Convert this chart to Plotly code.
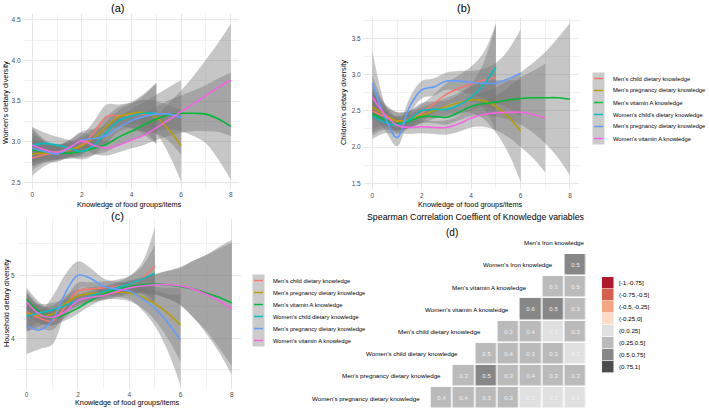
import numpy as np
import plotly.graph_objects as go

W, H = 709, 413

# ---------------- data ----------------
series_colors = ["#F8766D", "#B79F00", "#00BA38", "#00BFC4", "#619CFF", "#F564E3"]
legend_names_b = ["Men's child dietary knowledge", "Men's pregnancy dietary knowledge",
                  "Men's vitamin A knowledge", "Women's child's dietary knowledge",
                  "Men's pregnancy dietary knowledge", "Women's vitamin A knowledge"]
legend_names_c = ["Men's child dietary knowledge", "Men's pregnancy dietary knowledge",
                  "Men's vitamin A knowledge", "Women's child dietary knowledge",
                  "Men's pregnancy dietary knowledge", "Women's vitamin A knowledge"]

# knowledge score step between estimates
knowledge_step = 0.5

# (a) Women's dietary diversity: smoothed mean and half-width of CI
a_mean = [
    [2.80, 2.84, 2.87, 2.90, 2.96, 3.12, 3.31, 3.32, 3.33, 3.34, 3.35],
    [2.85, 2.86, 2.87, 2.90, 2.95, 3.05, 3.19, 3.31, 3.35, 3.36, 3.30, 3.15, 2.95],
    [2.90, 2.88, 2.86, 2.86, 2.88, 2.92, 2.97, 3.06, 3.13, 3.21, 3.28, 3.33, 3.35, 3.35, 3.34, 3.28, 3.19],
    [2.96, 2.98, 2.96, 2.92, 2.88, 2.96, 3.12, 3.26, 3.32, 3.35, 3.35],
    [2.92, 2.88, 2.85, 2.92, 3.02, 3.04, 3.08, 3.18, 3.26, 3.31, 3.34, 3.34, 3.30],
    [2.96, 2.90, 2.87, 2.93, 3.01, 2.95, 2.92, 2.96, 3.02, 3.08, 3.17, 3.27, 3.37, 3.47, 3.57, 3.67, 3.76],
]
a_se = [
    [0.22, 0.14, 0.10, 0.10, 0.12, 0.14, 0.15, 0.14, 0.16, 0.25, 0.38],
    [0.20, 0.12, 0.09, 0.09, 0.10, 0.11, 0.12, 0.12, 0.13, 0.16, 0.20, 0.30, 0.44],
    [0.20, 0.12, 0.08, 0.07, 0.07, 0.08, 0.09, 0.10, 0.11, 0.13, 0.15, 0.18, 0.22, 0.28, 0.36, 0.50, 0.66],
    [0.22, 0.13, 0.10, 0.10, 0.10, 0.12, 0.13, 0.13, 0.15, 0.22, 0.37],
    [0.22, 0.13, 0.10, 0.10, 0.11, 0.12, 0.12, 0.12, 0.14, 0.18, 0.24, 0.33, 0.46],
    [0.22, 0.12, 0.09, 0.09, 0.10, 0.10, 0.09, 0.09, 0.10, 0.12, 0.15, 0.20, 0.26, 0.34, 0.44, 0.55, 0.69],
]

# (b) Children's dietary diversity
b_mean = [
    [2.50, 2.42, 2.36, 2.38, 2.47, 2.60, 2.73, 2.81, 2.87, 2.92, 2.96],
    [2.55, 2.45, 2.36, 2.38, 2.44, 2.50, 2.56, 2.61, 2.65, 2.64, 2.56, 2.42, 2.22],
    [2.46, 2.38, 2.32, 2.36, 2.42, 2.42, 2.41, 2.48, 2.56, 2.60, 2.62, 2.65, 2.67, 2.68, 2.68, 2.68, 2.66],
    [2.43, 2.34, 2.30, 2.38, 2.50, 2.52, 2.52, 2.58, 2.69, 2.86, 3.10],
    [2.88, 2.42, 2.13, 2.55, 2.79, 2.83, 2.91, 2.91, 2.89, 2.88, 2.88, 2.94, 3.02],
    [2.69, 2.45, 2.30, 2.27, 2.28, 2.27, 2.27, 2.32, 2.40, 2.45, 2.47, 2.48, 2.48, 2.45, 2.40],
]
b_se = [
    [0.30, 0.15, 0.12, 0.12, 0.12, 0.13, 0.15, 0.18, 0.24, 0.38, 0.74],
    [0.30, 0.15, 0.12, 0.11, 0.11, 0.11, 0.12, 0.14, 0.18, 0.25, 0.36, 0.50, 0.70],
    [0.30, 0.14, 0.10, 0.09, 0.09, 0.09, 0.10, 0.11, 0.13, 0.16, 0.20, 0.27, 0.36, 0.48, 0.63, 0.82, 1.05],
    [0.32, 0.15, 0.12, 0.11, 0.11, 0.11, 0.12, 0.14, 0.18, 0.30, 0.60],
    [0.45, 0.18, 0.12, 0.12, 0.12, 0.12, 0.12, 0.14, 0.16, 0.20, 0.28, 0.40, 0.60],
    [0.30, 0.14, 0.10, 0.09, 0.09, 0.09, 0.10, 0.11, 0.13, 0.17, 0.24, 0.34, 0.48, 0.60, 0.75],
]

# (c) Household dietary diversity
c_mean = [
    [4.42, 4.32, 4.27, 4.50, 4.75, 4.78, 4.80, 4.82, 4.85, 4.95, 5.15],
    [4.40, 4.36, 4.38, 4.55, 4.67, 4.71, 4.72, 4.73, 4.72, 4.66, 4.55, 4.40, 4.21],
    [4.62, 4.42, 4.32, 4.38, 4.48, 4.60, 4.70, 4.77, 4.82, 4.85, 4.86, 4.85, 4.82, 4.78, 4.72, 4.65, 4.56],
    [4.35, 4.40, 4.45, 4.52, 4.60, 4.67, 4.74, 4.80, 4.86, 4.94, 5.03],
    [4.20, 4.13, 4.28, 4.71, 5.00, 4.95, 4.82, 4.78, 4.75, 4.63, 4.48, 4.25, 3.97],
    [4.58, 4.38, 4.33, 4.42, 4.60, 4.65, 4.68, 4.74, 4.80, 4.83, 4.85, 4.85, 4.83, 4.78, 4.70, 4.60, 4.47],
]
c_se = [
    [0.30, 0.17, 0.14, 0.13, 0.13, 0.11, 0.10, 0.11, 0.14, 0.25, 0.62],
    [0.30, 0.16, 0.13, 0.12, 0.11, 0.10, 0.10, 0.11, 0.13, 0.18, 0.26, 0.40, 0.58],
    [0.18, 0.15, 0.12, 0.10, 0.09, 0.08, 0.08, 0.09, 0.10, 0.12, 0.16, 0.22, 0.30, 0.45, 0.60, 0.80, 1.00],
    [0.20, 0.14, 0.11, 0.10, 0.09, 0.08, 0.08, 0.09, 0.12, 0.20, 0.45],
    [0.45, 0.30, 0.38, 0.30, 0.22, 0.16, 0.13, 0.12, 0.13, 0.18, 0.28, 0.45, 0.72],
    [0.18, 0.15, 0.12, 0.10, 0.09, 0.08, 0.08, 0.09, 0.10, 0.12, 0.16, 0.22, 0.30, 0.45, 0.62, 0.82, 1.05],
]

# (d) Spearman correlations (rows from bottom; each row starts at its own column)
corr_vars = ["Women's pregnancy dietary knowledge", "Men's pregnancy dietary knowledge",
             "Women's child dietary knowledge", "Men's child dietary knowledge",
             "Women's vitamin A knowledge", "Men's vitamin A knowledge",
             "Women's Iron knowledge", "Men's Iron knowledge"]
corr_rows = [
    [0.40, 0.40, 0.30, 0.30, 0.20, 0.20, 0.10],
    [0.30, 0.53, 0.30, 0.40, 0.30, 0.30],
    [0.47, 0.40, 0.30, 0.30, 0.20],
    [0.30, 0.40, 0.20, 0.30],
    [0.60, 0.53, 0.30],
    [0.30, 0.47],
    [0.53],
]
corr_bins = ["[-1,-0.75]", "(-0.75,-0.5]", "(-0.5,-0.25]", "(-0.25,0]",
             "(0,0.25]", "(0.25,0.5]", "(0.5,0.75]", "(0.75,1]"]
corr_colors = ["#B2182B", "#D6604D", "#F4A582", "#FDDBC7",
               "#E0E0E0", "#BABABA", "#878787", "#4D4D4D"]

# ---------------- helpers ----------------
def PX(px):
    return px / W

def PY(py):
    return 1 - py / H

FONT = "Liberation Sans, Arial, sans-serif"
RIBBON = "rgba(120,120,120,0.42)"

fig = go.Figure()

def add_panel(means, ses, xa, ya):
    for m, s in zip(means, ses):
        m = np.array(m); s = np.array(s)
        x = np.arange(len(m)) * knowledge_step
        fig.add_trace(go.Scatter(x=x, y=m - s, mode="lines", line=dict(width=0, shape="spline"),
                                 xaxis=xa, yaxis=ya, showlegend=False, hoverinfo="skip"))
        fig.add_trace(go.Scatter(x=x, y=m + s, mode="lines", line=dict(width=0, shape="spline"),
                                 fill="tonexty", fillcolor=RIBBON,
                                 xaxis=xa, yaxis=ya, showlegend=False, hoverinfo="skip"))
    for m, col in zip(means, series_colors):
        x = np.arange(len(m)) * knowledge_step
        fig.add_trace(go.Scatter(x=x, y=m, mode="lines", line=dict(width=1.6, color=col, shape="spline"),
                                 xaxis=xa, yaxis=ya, showlegend=False, hoverinfo="skip"))

add_panel(a_mean, a_se, "x", "y")
add_panel(b_mean, b_se, "x2", "y2")
add_panel(c_mean, c_se, "x3", "y3")

# heatmap
n = len(corr_rows)
z = [[None] * n for _ in range(n)]
txt = [[""] * n for _ in range(n)]
for r, row in enumerate(corr_rows):
    for k, v in enumerate(row):
        z[r][r + k] = v
        txt[r][r + k] = f"{round(v, 1):.1f}"
cs = []
for k, c in enumerate(corr_colors):
    cs += [[k / 8, c], [(k + 1) / 8, c]]
fig.add_trace(go.Heatmap(z=z, x=list(range(n)), y=list(range(n)), text=txt, texttemplate="%{text}",
                         textfont=dict(size=6, color="#f2f2f2", family=FONT),
                         colorscale=cs, zmin=-1, zmax=1, showscale=False, xgap=1.5, ygap=1.5,
                         xaxis="x4", yaxis="y4", hoverinfo="skip"))

# ---------------- axes ----------------
tickf = dict(size=6.5, color="#4d4d4d", family=FONT)
GRID = "#e6e6e6"
MINOR = "#f1f1f1"

def xax(dom, anchor):
    return dict(domain=dom, anchor=anchor, range=[-0.35, 8.35], tickvals=[0, 2, 4, 6, 8],
                showgrid=True, gridcolor=GRID, gridwidth=0.8, zeroline=False, showline=False,
                ticks="", tickfont=tickf, ticklabelstandoff=1,
                minor=dict(dtick=1, tick0=0, showgrid=True, gridcolor=MINOR, gridwidth=0.6))

def yax(dom, anchor, rng, dtick, mdtick, fmt):
    return dict(domain=dom, anchor=anchor, range=rng, dtick=dtick, tick0=0, tickformat=fmt,
                showgrid=True, gridcolor=GRID, gridwidth=0.8, zeroline=False, showline=False,
                ticks="", tickfont=tickf, ticklabelstandoff=2,
                minor=dict(dtick=mdtick, tick0=0, showgrid=True, gridcolor=MINOR, gridwidth=0.6))

# heatmap cell geometry (pixels)
HM_X0, HM_Y0, CELL_W, CELL_H = 441.7, 398.0, 22.31, 22.17

layout = dict(
    width=W, height=H, margin=dict(l=0, r=0, t=0, b=0),
    paper_bgcolor="white", plot_bgcolor="white", showlegend=False,
    font=dict(family=FONT, color="black"),
    xaxis=xax([PX(23.6), PX(239.4)], "y"),
    yaxis=yax([PY(188.8), PY(13.5)], "x", [2.42, 4.58], 0.5, 0.25, ".1f"),
    xaxis2=xax([PX(363.7), PX(578.6)], "y2"),
    yaxis2=yax([PY(189.1), PY(18.0)], "x2", [1.42, 3.78], 0.5, 0.25, ".1f"),
    xaxis3=xax([PX(17.7), PX(240.7)], "y3"),
    yaxis3=yax([PY(388.6), PY(218.6)], "x3", [3.2, 5.9], 1, 0.5, "d"),
    xaxis4=dict(domain=[PX(HM_X0 - CELL_W / 2), PX(HM_X0 + CELL_W * 6.5)], anchor="y4",
                range=[-0.5, 6.5], visible=False),
    yaxis4=dict(domain=[PY(HM_Y0 + CELL_H / 2), PY(HM_Y0 - CELL_H * 6.5)], anchor="x4",
                range=[-0.5, 6.5], visible=False),
)
fig.update_layout(**layout)

ann = []
def text(x, y, s, size, anchor="center", angle=0, color="black"):
    ann.append(dict(x=PX(x), y=PY(y), xref="paper", yref="paper", text=s, showarrow=False,
                    xanchor=anchor, yanchor="middle", textangle=angle,
                    font=dict(size=size, color=color, family=FONT)))

# panel titles
text(117, 8, "(a)", 11)
text(463, 8, "(b)", 11)
text(117, 216, "(c)", 11)
text(452, 232, "(d)", 10)
text(476, 217, "Spearman Correlation Coeffient of Knowledge variables", 8.8)

# axis titles
text(129, 204, "Knowledge of food groups/items", 7.3)
text(470, 204, "Knowledge of food groups/items", 7.3)
text(127, 402, "Knowledge of food groups/items", 7.3)
text(6, 103, "Women's dietary diversity", 7.3, angle=-90)
text(344, 103, "Children's dietary diversity", 7.3, angle=-90)
text(6, 303, "Household dietary diversity", 7.3, angle=-90)

shapes = []
def legend(x0, ytop, names):
    kw, step = 12, 12
    shapes.append(dict(type="rect", xref="paper", yref="paper", x0=PX(x0), x1=PX(x0 + kw),
                       y0=PY(ytop + step * len(names)), y1=PY(ytop),
                       fillcolor="#cbcbcb", line=dict(width=0)))
    for i, (nm, col) in enumerate(zip(names, series_colors)):
        yc = ytop + step * (i + 0.5)
        shapes.append(dict(type="line", xref="paper", yref="paper", x0=PX(x0 + 1.5), x1=PX(x0 + kw - 1.5),
                           y0=PY(yc), y1=PY(yc), line=dict(color=col, width=1.5)))
        text(x0 + kw + 6, yc, nm, 5.8, anchor="left")

legend(592.5, 72.5, legend_names_b)
legend(252.5, 274.5, legend_names_c)

# correlation legend
for i, (lab, col) in enumerate(zip(corr_bins, corr_colors)):
    yc = 282.7 + 12 * i
    shapes.append(dict(type="rect", xref="paper", yref="paper", x0=PX(602), x1=PX(613.5),
                       y0=PY(yc + 5.7), y1=PY(yc - 5.7), fillcolor=col, line=dict(width=0)))
    text(616.5, yc, lab, 6.2, anchor="left")

# diagonal variable labels (right edges in cell units, rows from bottom)
label_right = [-0.9, 0.05, 0.8, 1.85, 3.1, 3.9, 5.1, 6.5]
for i, (nm, xr) in enumerate(zip(corr_vars, label_right)):
    text(HM_X0 + CELL_W * xr, HM_Y0 - CELL_H * i, nm, 6.2, anchor="right")

fig.update_layout(annotations=ann, shapes=shapes)
fig.write_html("out.html", config={"displayModeBar": False},
               post_script="document.body.style.margin='0px';document.body.style.overflow='hidden';")
